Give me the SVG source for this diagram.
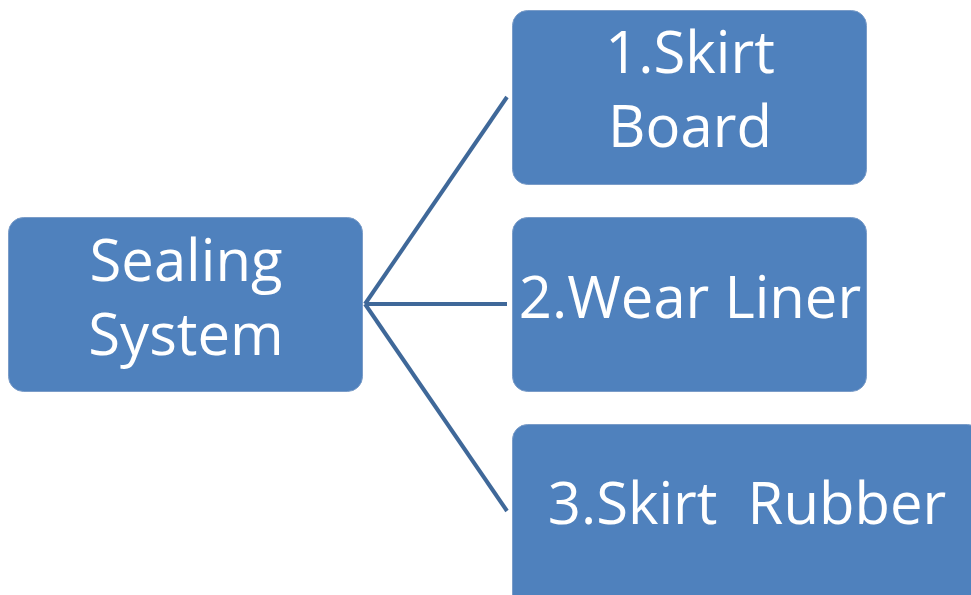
<svg xmlns="http://www.w3.org/2000/svg" width="971" height="595" viewBox="0 0 971 595">
<style>
.box{fill:#4F81BD;stroke:#7A9CC8;stroke-width:1}
.t{font-family:"Open Sans","Liberation Sans",sans-serif;font-size:58px;fill:#fff;text-anchor:middle;white-space:pre}
.c{stroke:#3F6899;stroke-width:4;fill:none}
</style>
<rect width="971" height="595" fill="#fff"/>
<g id="connectors">
<line class="c" x1="365" y1="304" x2="507" y2="97"/>
<line class="c" x1="365" y1="304" x2="507" y2="304"/>
<line class="c" x1="365" y1="304" x2="507" y2="511"/>
</g>
<g id="sealing">
<rect class="box" x="8.5" y="217.5" width="354" height="174" rx="15"/>
<text class="t" x="186" y="281">Sealing</text>
<text class="t" x="186" y="355">System</text>
</g>
<g id="skirt-board">
<rect class="box" x="512.5" y="10.5" width="354" height="174" rx="15"/>
<text class="t" x="690" y="73">1.Skirt</text>
<text class="t" x="690" y="147">Board</text>
</g>
<g id="wear-liner">
<rect class="box" x="512.5" y="217.5" width="354" height="174" rx="15"/>
<text class="t" x="690" y="318">2.Wear Liner</text>
</g>
<g id="skirt-rubber">
<rect class="box" x="512.5" y="424.5" width="470" height="190" rx="15"/>
<text class="t" x="747" y="524" xml:space="preserve">3.Skirt  Rubber</text>
</g>
</svg>
